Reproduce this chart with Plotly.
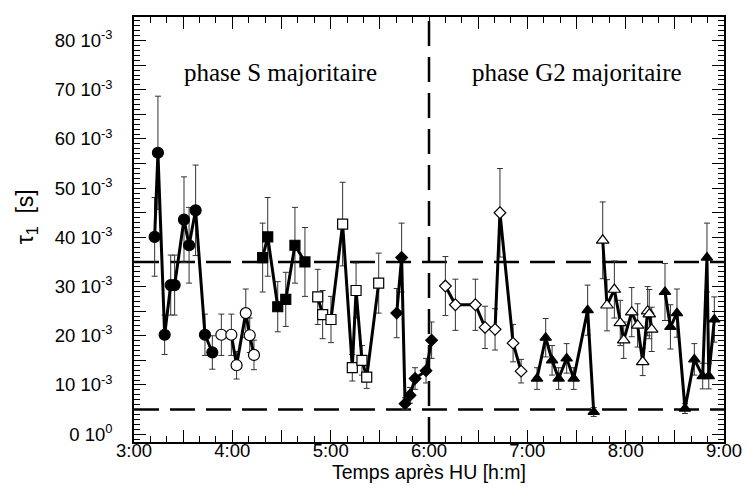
import plotly.graph_objects as go

# Time after HU (minutes), tau_1 (ms) and its uncertainty (ms), one block per series
t_circ_f = [192.6, 194.6, 198.7, 202.4, 204.8, 210.5, 213.6, 217.6, 223.3, 227.8]
v_circ_f = [40.1, 57.2, 20.2, 30.3, 30.3, 43.6, 38.4, 45.5, 20.2, 16.6]
e_circ_f = [8.0, 11.5, 4.0, 6.1, 6.1, 8.7, 7.7, 9.2, 4.2, 3.4]

t_circ_o = [233.3, 239.4, 242.6, 248.2, 250.6, 253.2]
v_circ_o = [20.2, 20.2, 14.0, 24.6, 20.1, 16.1]
e_circ_o = [4.2, 4.2, 2.8, 4.9, 3.5, 3.0]

t_sq_f = [258.5, 261.6, 267.7, 272.6, 278.2, 284.3]
v_sq_f = [35.9, 40.1, 25.9, 27.4, 38.4, 35.0]
e_sq_f = [7.0, 8.0, 5.1, 5.5, 7.7, 7.0]

t_sq_o = [292.1, 295.1, 300.2, 307.3, 313.2, 315.5, 319.1, 322.0, 329.3]
v_sq_o = [27.9, 24.3, 23.3, 42.7, 13.5, 29.2, 15.0, 11.6, 30.7]
e_sq_o = [5.6, 4.9, 4.7, 8.5, 2.7, 5.6, 3.0, 2.3, 6.1]

t_dia_f = [340.3, 343.3, 345.4, 348.4, 351.5, 358.2, 361.6]
v_dia_f = [24.6, 35.9, 6.2, 7.9, 11.3, 12.9, 19.1]
e_dia_f = [5.0, 7.0, 1.2, 1.6, 2.2, 2.5, 3.7]

t_dia_o = [370.0, 376.1, 388.3, 394.2, 400.3, 403.3, 411.3, 416.2]
v_dia_o = [30.1, 26.3, 26.3, 21.7, 21.3, 45.0, 18.5, 12.8]
e_dia_o = [6.0, 5.2, 5.2, 4.3, 4.2, 9.0, 3.8, 2.4]

t_tri_f1 = [425.9, 431.2, 435.1, 439.1, 444.0, 448.3, 456.8, 460.5]
v_tri_f1 = [11.3, 19.6, 15.0, 11.3, 15.4, 11.3, 25.2, 4.5]
e_tri_f1 = [2.2, 3.9, 3.0, 2.2, 3.0, 2.2, 5.1, 0.9]

t_tri_o = [466.0, 468.6, 473.1, 476.7, 478.8, 483.7, 487.3, 490.4, 493.4, 494.4, 495.9]
v_tri_o = [39.4, 26.2, 29.4, 22.6, 19.1, 24.8, 22.1, 14.7, 25.0, 24.4, 21.3]
e_tri_o = [7.8, 5.2, 5.8, 4.6, 3.7, 5.0, 4.4, 2.8, 5.0, 5.0, 4.5]

t_tri_f2 = [504.0, 507.3, 511.3, 516.2, 521.9, 527.0, 529.6, 530.7, 534.1]
v_tri_f2 = [28.9, 21.8, 24.6, 5.2, 15.2, 11.8, 35.9, 11.8, 23.3]
e_tri_f2 = [5.8, 4.5, 4.9, 1.0, 3.2, 2.6, 7.0, 2.6, 4.6]

# Reference levels (ms) and phase boundary (hours)
tau_levels = [35, 5]
phase_boundary_h = 6

# Axis ticks
x_ticks_h = [3, 3.5, 4, 4.5, 5, 5.5, 6, 6.5, 7, 7.5, 8, 8.5, 9]
x_ticktext = ["3:00", "", "4:00", "", "5:00", "", "6:00", "", "7:00", "", "8:00", "", "9:00"]
y_ticks_ms = list(range(0, 85, 5))
y_ticktext = ["0 10<sup>0</sup>" if v == 0 else (f"{v} 10<sup>-3</sup>" if v % 10 == 0 else "")
              for v in y_ticks_ms]

series = [
    (t_circ_f, v_circ_f, e_circ_f, "circle", 11, "black"),
    (t_circ_o, v_circ_o, e_circ_o, "circle", 11, "white"),
    (t_sq_f, v_sq_f, e_sq_f, "square", 10, "black"),
    (t_sq_o, v_sq_o, e_sq_o, "square", 10, "white"),
    (t_dia_f, v_dia_f, e_dia_f, "diamond", 9, "black"),
    (t_dia_o, v_dia_o, e_dia_o, "diamond", 9, "white"),
    (t_tri_f1, v_tri_f1, e_tri_f1, "triangle-up", 10, "black"),
    (t_tri_o, v_tri_o, e_tri_o, "triangle-up", 11, "white"),
    (t_tri_f2, v_tri_f2, e_tri_f2, "triangle-up", 10, "black"),
]

fig = go.Figure()
for t, v, e, sym, size, fill in series:
    fig.add_trace(go.Scatter(
        x=[m / 60 for m in t], y=v, mode="lines+markers",
        line=dict(color="black", width=3),
        marker=dict(symbol=sym, size=size, color=fill, line=dict(color="black", width=1.2)),
        error_y=dict(type="data", array=e, color="#333333", thickness=1, width=3),
        showlegend=False, hoverinfo="skip",
    ))

dash = "25px,11px"
for lvl in tau_levels:
    fig.add_shape(type="line", xref="paper", x0=0, x1=1, yref="y", y0=lvl, y1=lvl,
                  line=dict(color="black", width=2.5, dash=dash), layer="below")
fig.add_shape(type="line", xref="x", x0=phase_boundary_h, x1=phase_boundary_h,
              yref="paper", y0=0, y1=1,
              line=dict(color="black", width=2.5, dash=dash), layer="below")

serif = "Liberation Serif, Times New Roman, serif"
fig.add_annotation(text="phase S majoritaire", x=4.485, y=73.6, xref="x", yref="y",
                   showarrow=False, font=dict(family=serif, size=25, color="black"))
fig.add_annotation(text="phase G2 majoritaire", x=7.505, y=73.6, xref="x", yref="y",
                   showarrow=False, font=dict(family=serif, size=25, color="black"))
fig.add_annotation(text="τ<sub>1</sub>  [s]", x=-0.182, y=0.53, xref="paper", yref="paper",
                   xanchor="center", yanchor="middle", textangle=-90, showarrow=False,
                   font=dict(family="Liberation Sans, Arial, sans-serif", size=23, color="black"))

sans = dict(family="Liberation Sans, Arial, sans-serif", size=18.5, color="black")
axis_common = dict(showline=True, linecolor="black", linewidth=1.5, mirror="allticks",
                   ticks="inside", ticklen=12, tickwidth=1, tickcolor="black",
                   showgrid=False, zeroline=False, tickfont=sans, automargin=False)

fig.update_xaxes(range=[3, 9], tickmode="array", tickvals=x_ticks_h, ticktext=x_ticktext,
                 minor=dict(tickmode="linear", tick0=3, dtick=1 / 6, ticks="inside",
                            ticklen=6, tickwidth=1, tickcolor="black"),
                 ticklabelstandoff=-9,
                 title=dict(text="Temps après HU [h:m]",
                            font=dict(family=sans["family"], size=19.5, color="black"),
                            standoff=2),
                 **axis_common)
fig.update_yaxes(range=[-1.6, 84.8], tickmode="array", tickvals=y_ticks_ms, ticktext=y_ticktext,
                 minor=dict(tickmode="linear", tick0=0, dtick=1, ticks="inside",
                            ticklen=6, tickwidth=1, tickcolor="black"),
                 ticklabelstandoff=16,
                 **axis_common)

fig.update_layout(width=748, height=488, margin=dict(l=134, r=24, t=17, b=46),
                  plot_bgcolor="white", paper_bgcolor="white")

fig.write_html("out.html")
